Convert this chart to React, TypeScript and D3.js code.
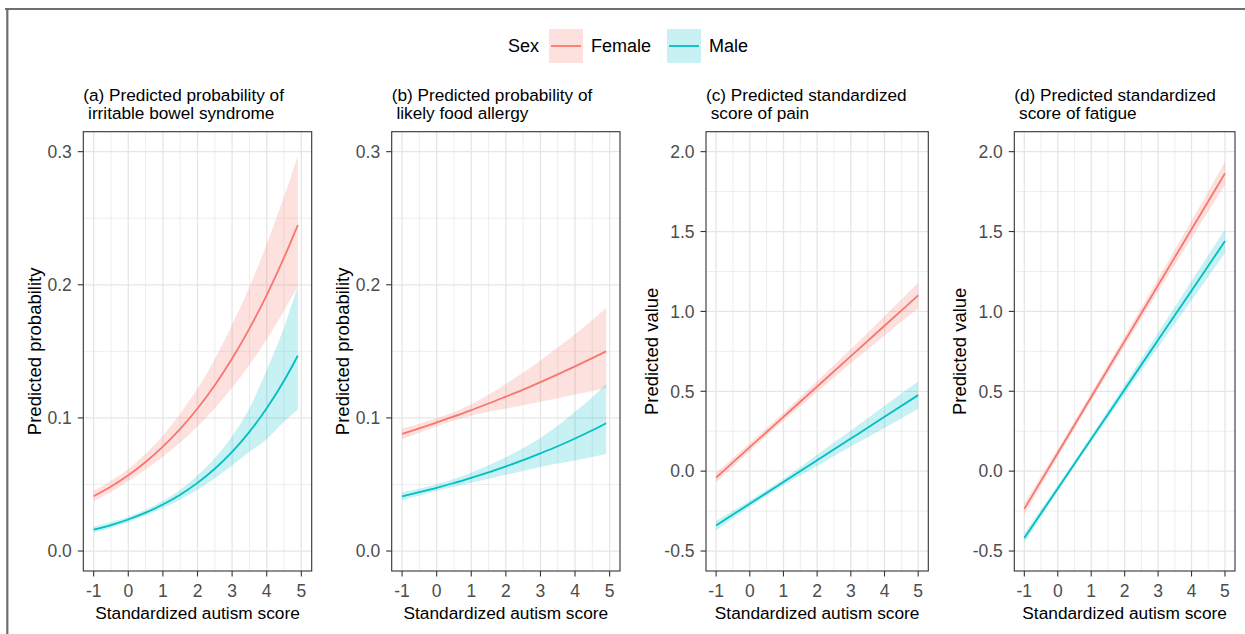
import React from "react";
import * as d3 from "d3";

const W = 1245;
const H = 634;
const FEMALE = "#F8766D";
const MALE = "#00BFC4";
const FONT = "'Liberation Sans', Arial, Helvetica, sans-serif";

const xsProb = [-1, -0.5, 0, 0.5, 1, 1.5, 2, 2.5, 3, 3.5, 4, 4.5, 4.9];
const xsScore = [-1, 0, 1, 2, 3, 4, 5];

// (a) irritable bowel syndrome
const ibsFemale = [0.0411, 0.0484, 0.0569, 0.0669, 0.0784, 0.0917, 0.1071, 0.1246, 0.1446, 0.1671, 0.1923, 0.2204, 0.2449];
const ibsFemaleLo = [0.0373, 0.0444, 0.0526, 0.0612, 0.0708, 0.0815, 0.0936, 0.1072, 0.1226, 0.1398, 0.159, 0.1804, 0.199];
const ibsFemaleHi = [0.0452, 0.0528, 0.0617, 0.073, 0.0868, 0.1032, 0.122, 0.1443, 0.17, 0.1984, 0.2306, 0.2663, 0.297];
const ibsMale = [0.016, 0.0195, 0.0237, 0.0288, 0.0349, 0.0423, 0.0512, 0.0618, 0.0745, 0.0895, 0.1072, 0.1279, 0.1468];
const ibsMaleLo = [0.0138, 0.0173, 0.0217, 0.0266, 0.0323, 0.0388, 0.0461, 0.0547, 0.0642, 0.0745, 0.084, 0.0971, 0.1063];
const ibsMaleHi = [0.0185, 0.0219, 0.0258, 0.0311, 0.0377, 0.0461, 0.0568, 0.0698, 0.0863, 0.1072, 0.1359, 0.168, 0.1995];

// (b) likely food allergy
const faFemale = [0.088, 0.0922, 0.0966, 0.1011, 0.1059, 0.1108, 0.116, 0.1213, 0.1269, 0.1327, 0.1387, 0.1449, 0.15];
const faFemaleLo = [0.0841, 0.0889, 0.0936, 0.098, 0.1017, 0.1046, 0.1071, 0.1096, 0.1122, 0.1148, 0.1175, 0.1202, 0.1224];
const faFemaleHi = [0.0921, 0.0956, 0.0997, 0.1044, 0.1102, 0.1174, 0.1255, 0.1341, 0.1432, 0.1528, 0.1629, 0.1736, 0.1825];
const faMale = [0.041, 0.0442, 0.0475, 0.0511, 0.055, 0.0591, 0.0636, 0.0683, 0.0734, 0.0787, 0.0845, 0.0907, 0.096];
const faMaleLo = [0.0382, 0.0417, 0.0451, 0.0483, 0.0512, 0.0543, 0.0573, 0.0602, 0.0632, 0.0657, 0.068, 0.0707, 0.0729];
const faMaleHi = [0.0441, 0.0468, 0.0501, 0.0541, 0.059, 0.0644, 0.0704, 0.0774, 0.085, 0.0941, 0.1046, 0.1155, 0.1254];

// (c) pain
const painFemale = [-0.04, 0.15, 0.34, 0.53, 0.72, 0.91, 1.1];
const painFemaleLo = [-0.07, 0.125, 0.315, 0.495, 0.675, 0.85, 1.02];
const painFemaleHi = [-0.01, 0.175, 0.365, 0.565, 0.765, 0.97, 1.18];
const painMale = [-0.34, -0.204, -0.068, 0.068, 0.204, 0.34, 0.476];
const painMaleLo = [-0.37, -0.224, -0.088, 0.033, 0.154, 0.27, 0.391];
const painMaleHi = [-0.31, -0.184, -0.048, 0.103, 0.254, 0.41, 0.561];

// (d) fatigue
const fatFemale = [-0.236, 0.114, 0.464, 0.814, 1.164, 1.514, 1.864];
const fatFemaleLo = [-0.271, 0.089, 0.439, 0.784, 1.124, 1.459, 1.789];
const fatFemaleHi = [-0.201, 0.139, 0.489, 0.844, 1.204, 1.569, 1.939];
const fatMale = [-0.418, -0.108, 0.201, 0.511, 0.821, 1.13, 1.44];
const fatMaleLo = [-0.448, -0.128, 0.181, 0.481, 0.776, 1.07, 1.365];
const fatMaleHi = [-0.388, -0.088, 0.221, 0.541, 0.866, 1.19, 1.515];

const xTicks = [-1, 0, 1, 2, 3, 4, 5];
const xMinor = [-0.5, 0.5, 1.5, 2.5, 3.5, 4.5];
const probTicks = [0, 0.1, 0.2, 0.3];
const probMinor = [0.05, 0.15, 0.25];
const scoreTicks = [-0.5, 0, 0.5, 1, 1.5, 2];
const scoreMinor = [-0.25, 0.25, 0.75, 1.25, 1.75];

const sexLevels = ["Female", "Male"];

type Series = { color: string; y: number[]; lo: number[]; hi: number[] };

const PANELS = [
  {
    t1: "(a) Predicted probability of",
    t2: " irritable bowel syndrome",
    yLabel: "Predicted probability",
    left: 83.3,
    right: 311.7,
    yTitleOff: 49,
    yDomain: [-0.015, 0.315],
    yTicks: probTicks,
    yMinor: probMinor,
    xs: xsProb,
    series: [
      { color: FEMALE, y: ibsFemale, lo: ibsFemaleLo, hi: ibsFemaleHi },
      { color: MALE, y: ibsMale, lo: ibsMaleLo, hi: ibsMaleHi },
    ],
  },
  {
    t1: "(b) Predicted probability of",
    t2: " likely food allergy",
    yLabel: "Predicted probability",
    left: 391.7,
    right: 620,
    yTitleOff: 49,
    yDomain: [-0.015, 0.315],
    yTicks: probTicks,
    yMinor: probMinor,
    xs: xsProb,
    series: [
      { color: FEMALE, y: faFemale, lo: faFemaleLo, hi: faFemaleHi },
      { color: MALE, y: faMale, lo: faMaleLo, hi: faMaleHi },
    ],
  },
  {
    t1: "(c) Predicted standardized",
    t2: " score of pain",
    yLabel: "Predicted value",
    left: 706,
    right: 928.3,
    yTitleOff: 54.5,
    yDomain: [-0.625, 2.125],
    yTicks: scoreTicks,
    yMinor: scoreMinor,
    xs: xsScore,
    series: [
      { color: FEMALE, y: painFemale, lo: painFemaleLo, hi: painFemaleHi },
      { color: MALE, y: painMale, lo: painMaleLo, hi: painMaleHi },
    ],
  },
  {
    t1: "(d) Predicted standardized",
    t2: " score of fatigue",
    yLabel: "Predicted value",
    left: 1014.3,
    right: 1235,
    yTitleOff: 54.5,
    yDomain: [-0.625, 2.125],
    yTicks: scoreTicks,
    yMinor: scoreMinor,
    xs: xsScore,
    series: [
      { color: FEMALE, y: fatFemale, lo: fatFemaleLo, hi: fatFemaleHi },
      { color: MALE, y: fatMale, lo: fatMaleLo, hi: fatMaleHi },
    ],
  },
];

const TOP = 131.7;
const BOTTOM = 571;

function Panel({ p }: { p: (typeof PANELS)[number] }) {
  const x = d3.scaleLinear().domain([-1.3, 5.3]).range([p.left, p.right]);
  const y = d3.scaleLinear().domain(p.yDomain).range([BOTTOM, TOP]);
  const xs = p.xs;

  const grid = "#E6E6E6";
  const tickCol = "#333333";
  const textCol = "#4D4D4D";

  return (
    <g>
      {/* panel title */}
      <text x={p.left} y={100.5} fontSize={17.2} fill="#000" style={{ whiteSpace: "pre" }}>
        {p.t1}
      </text>
      <text x={p.left} y={119} fontSize={17.2} fill="#000" style={{ whiteSpace: "pre" }}>
        {p.t2}
      </text>

      {/* grid */}
      {p.yMinor.map((v) => (
        <line key={"ym" + v} x1={p.left} x2={p.right} y1={y(v)} y2={y(v)} stroke={grid} strokeWidth={0.7} />
      ))}
      {xMinor.map((v) => (
        <line key={"xm" + v} x1={x(v)} x2={x(v)} y1={TOP} y2={BOTTOM} stroke={grid} strokeWidth={0.7} />
      ))}
      {p.yTicks.map((v) => (
        <line key={"yM" + v} x1={p.left} x2={p.right} y1={y(v)} y2={y(v)} stroke={grid} strokeWidth={1.3} />
      ))}
      {xTicks.map((v) => (
        <line key={"xM" + v} x1={x(v)} x2={x(v)} y1={TOP} y2={BOTTOM} stroke={grid} strokeWidth={1.3} />
      ))}

      {/* ribbons then lines */}
      {p.series.map((s: Series, i) => {
        const idx = d3.range(xs.length);
        const area = d3
          .area<number>()
          .x((j) => x(xs[j]))
          .y0((j) => y(s.lo[j]))
          .y1((j) => y(s.hi[j]))
          .curve(d3.curveMonotoneX);
        return <path key={"r" + i} d={area(idx) || ""} fill={s.color} fillOpacity={0.22} stroke="none" />;
      })}
      {p.series.map((s: Series, i) => {
        const idx = d3.range(xs.length);
        const line = d3
          .line<number>()
          .x((j) => x(xs[j]))
          .y((j) => y(s.y[j]))
          .curve(d3.curveMonotoneX);
        return <path key={"l" + i} d={line(idx) || ""} fill="none" stroke={s.color} strokeWidth={1.8} />;
      })}

      {/* border */}
      <rect x={p.left} y={TOP} width={p.right - p.left} height={BOTTOM - TOP} fill="none" stroke={tickCol} strokeWidth={1.1} />

      {/* y axis */}
      {p.yTicks.map((v) => (
        <g key={"yt" + v}>
          <line x1={p.left - 5.5} x2={p.left} y1={y(v)} y2={y(v)} stroke={tickCol} strokeWidth={1.1} />
          <text x={p.left - 11.5} y={y(v)} dy="0.36em" textAnchor="end" fontSize={17.5} fill={textCol}>
            {v.toFixed(1)}
          </text>
        </g>
      ))}
      {/* x axis */}
      {xTicks.map((v) => (
        <g key={"xt" + v}>
          <line x1={x(v)} x2={x(v)} y1={BOTTOM} y2={BOTTOM + 5.5} stroke={tickCol} strokeWidth={1.1} />
          <text x={x(v)} y={597} textAnchor="middle" fontSize={17.5} fill={textCol}>
            {String(v)}
          </text>
        </g>
      ))}
      <text x={(p.left + p.right) / 2} y={619} textAnchor="middle" fontSize={17.3} fill="#000">
        Standardized autism score
      </text>
      <text
        transform={`translate(${p.left - p.yTitleOff},${(TOP + BOTTOM) / 2}) rotate(-90)`}
        dy="0.35em"
        textAnchor="middle"
        fontSize={18.5}
        fill="#000"
      >
        {p.yLabel}
      </text>
    </g>
  );
}

function Legend() {
  const cols = [FEMALE, MALE];
  const keyX = [549, 667];
  const labX = [591, 709];
  const cy = 46;
  const k = 34;
  return (
    <g>
      <text x={508} y={cy} dy="0.36em" fontSize={18} fill="#000">
        Sex
      </text>
      {sexLevels.map((lab, i) => (
        <g key={lab}>
          <rect x={keyX[i]} y={cy - k / 2} width={k} height={k} fill={cols[i]} fillOpacity={0.22} />
          <line x1={keyX[i] + 2} x2={keyX[i] + k - 2} y1={cy} y2={cy} stroke={cols[i]} strokeWidth={1.8} />
          <text x={labX[i]} y={cy} dy="0.36em" fontSize={18} fill="#000">
            {lab}
          </text>
        </g>
      ))}
    </g>
  );
}

export default function App() {
  return (
    <svg
      width={W}
      height={H}
      style={{ position: "absolute", left: 0, top: 0, background: "#fff" }}
      fontFamily={FONT}
    >
      <rect x={0} y={0} width={W} height={H} fill="#fff" />
      {/* outer frame of the figure */}
      <line x1={5} x2={W} y1={9} y2={9} stroke="#6E6E6E" strokeWidth={2.2} />
      <line x1={7.3} x2={7.3} y1={8} y2={H} stroke="#6E6E6E" strokeWidth={2.2} />
      <Legend />
      {PANELS.map((p, i) => (
        <Panel key={i} p={p} />
      ))}
    </svg>
  );
}
